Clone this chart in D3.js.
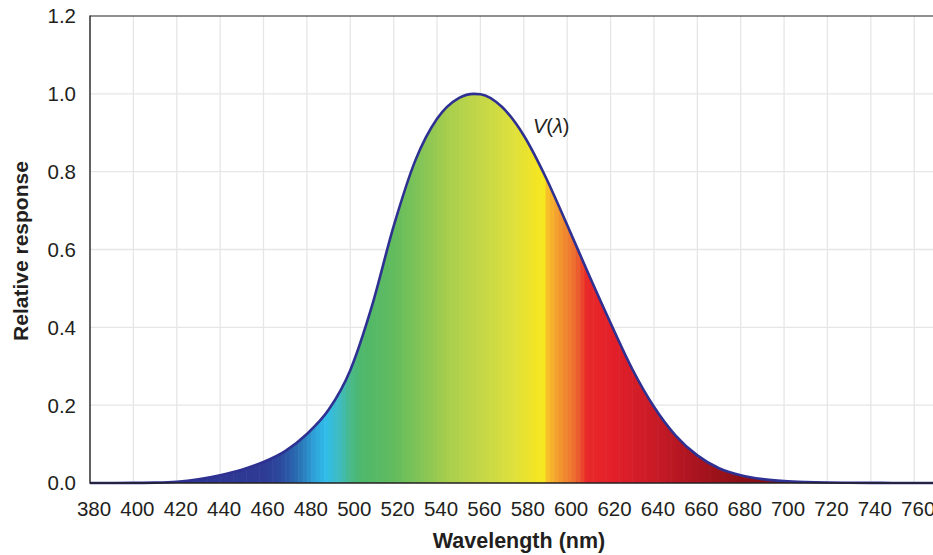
<!DOCTYPE html>
<html>
<head>
<meta charset="utf-8">
<script src="https://cdn.jsdelivr.net/npm/d3@7"></script>
<style>
  body { margin: 0; background: #fff; }
  svg { display: block; font-family: "Liberation Sans", Arial, Helvetica, sans-serif; }
</style>
</head>
<body>
<div id="chart"></div>
<script>
// V(lambda)
var wavelengths = [380, 390, 400, 410, 420, 430, 440, 450, 460, 470, 480, 490, 500, 510, 520, 530,
                   540, 550, 557, 560, 570, 580, 590, 600, 610, 620, 630, 640, 650, 660, 670, 680,
                   690, 700, 710, 720, 730, 740, 750, 760, 770, 780];
var response = [0.0000, 0.0001, 0.0003, 0.0009, 0.0031, 0.0095, 0.020, 0.034, 0.054, 0.082, 0.126, 0.188,
                0.290, 0.455, 0.660, 0.829, 0.936, 0.989, 1.000, 0.999, 0.966, 0.893, 0.787, 0.663,
                0.535, 0.411, 0.293, 0.196, 0.122, 0.071, 0.038, 0.020, 0.010, 0.0049, 0.0025,
                0.0013, 0.0007, 0.0003, 0.00015, 0.00008, 0.00004, 0.00002];

// spectrum colours under the curve
var specNm = [380, 460, 468, 476, 484, 489, 495, 500, 505, 520, 530, 545, 560, 575, 585, 589,
              590, 596, 604, 609, 620, 640, 660, 680, 720];
var specColor = ["#2e3192", "#2e3a94", "#2c4a9e", "#2a6fb2", "#2ea6dc", "#31bde8", "#3fbcc0", "#49b98a",
                 "#4eb86c", "#62bb5e", "#7cc258", "#a8ce4d", "#c4d748", "#dde03d", "#f1e425", "#f6e81f",
                 "#f9c92a", "#f39a30", "#ec6a30", "#e82a2a", "#e4202a", "#c91b27", "#a8141f", "#8c0f16",
                 "#7a0c12"];

var xTicks = d3.range(380, 761, 20);
var yTicks = [0, 0.2, 0.4, 0.6, 0.8, 1.0, 1.2];

var W = 933, H = 555;
var data = wavelengths.map(function(w, i) { return {w: w, v: response[i]}; });

var svg = d3.select("#chart").append("svg").attr("width", W).attr("height", H);

var x = d3.scaleLinear().domain([380, 780]).range([90, 957.6]);
var y = d3.scaleLinear().domain([0, 1.2]).range([483, 16]);
var color = d3.scaleLinear().domain(specNm).range(specColor).interpolate(d3.interpolateRgb);

// grid
var grid = svg.append("g").attr("stroke", "#e6e6e6").attr("stroke-width", 1.3);
grid.selectAll("line.v").data(xTicks.slice(1)).enter().append("line")
    .attr("x1", function(d) { return x(d); }).attr("x2", function(d) { return x(d); })
    .attr("y1", y(1.2)).attr("y2", y(0));
grid.selectAll("line.h").data(yTicks.slice(1, -1)).enter().append("line")
    .attr("x1", x(380)).attr("x2", W)
    .attr("y1", function(d) { return y(d); }).attr("y2", function(d) { return y(d); });

// area clip + banded spectrum fill
var area = d3.area().curve(d3.curveMonotoneX)
    .x(function(d) { return x(d.w); })
    .y0(y(0))
    .y1(function(d) { return y(d.v); });
var line = d3.line().curve(d3.curveMonotoneX)
    .x(function(d) { return x(d.w); })
    .y(function(d) { return y(d.v); });

svg.append("clipPath").attr("id", "under").append("path").datum(data).attr("d", area);

var step = 2;
svg.append("g").attr("clip-path", "url(#under)")
    .selectAll("rect").data(d3.range(380, 780, step)).enter().append("rect")
    .attr("x", function(d) { return x(d); })
    .attr("width", x(380 + step) - x(380) + 0.6)
    .attr("y", y(1.2))
    .attr("height", y(0) - y(1.2))
    .attr("fill", function(d) { return color(d + step / 2); });

svg.append("path").datum(data)
    .attr("fill", "none")
    .attr("stroke", "#2e3192")
    .attr("stroke-width", 2.6)
    .attr("stroke-linejoin", "round")
    .attr("d", line);

// frame
var ink = "#231f20";
svg.append("line").attr("x1", x(380)).attr("x2", W).attr("y1", y(1.2)).attr("y2", y(1.2))
    .attr("stroke", ink).attr("stroke-width", 1.2);
svg.append("line").attr("x1", x(380)).attr("x2", W).attr("y1", y(0)).attr("y2", y(0))
    .attr("stroke", ink).attr("stroke-width", 1.4);
svg.append("line").attr("x1", x(380)).attr("x2", x(380)).attr("y1", y(1.2) - 0.6).attr("y2", y(0) + 0.7)
    .attr("stroke", ink).attr("stroke-width", 1.4);

// tick labels
svg.append("g").selectAll("text").data(xTicks).enter().append("text")
    .attr("x", function(d) { return x(d) + 4; })
    .attr("y", 516)
    .attr("text-anchor", "middle")
    .attr("font-size", 20.5)
    .attr("fill", ink)
    .text(function(d) { return d; });

svg.append("g").selectAll("text").data(yTicks).enter().append("text")
    .attr("x", 76)
    .attr("y", function(d) { return y(d); })
    .attr("dy", "0.36em")
    .attr("text-anchor", "end")
    .attr("font-size", 20.5)
    .attr("fill", ink)
    .text(function(d) { return d.toFixed(1); });

// axis titles
svg.append("text")
    .attr("x", 519).attr("y", 548)
    .attr("text-anchor", "middle")
    .attr("font-size", 21.5).attr("font-weight", "bold")
    .attr("fill", ink)
    .text("Wavelength (nm)");

svg.append("text")
    .attr("transform", "translate(28,251) rotate(-90)")
    .attr("text-anchor", "middle")
    .attr("font-size", 21).attr("font-weight", "bold")
    .attr("fill", ink)
    .text("Relative response");

// curve label
var lab = svg.append("text").attr("x", 533).attr("y", 133).attr("font-size", 20).attr("fill", ink);
lab.append("tspan").attr("font-style", "italic").text("V");
lab.append("tspan").text("(");
lab.append("tspan").attr("font-style", "italic").text("\u03BB");
lab.append("tspan").text(")");
</script>
</body>
</html>
